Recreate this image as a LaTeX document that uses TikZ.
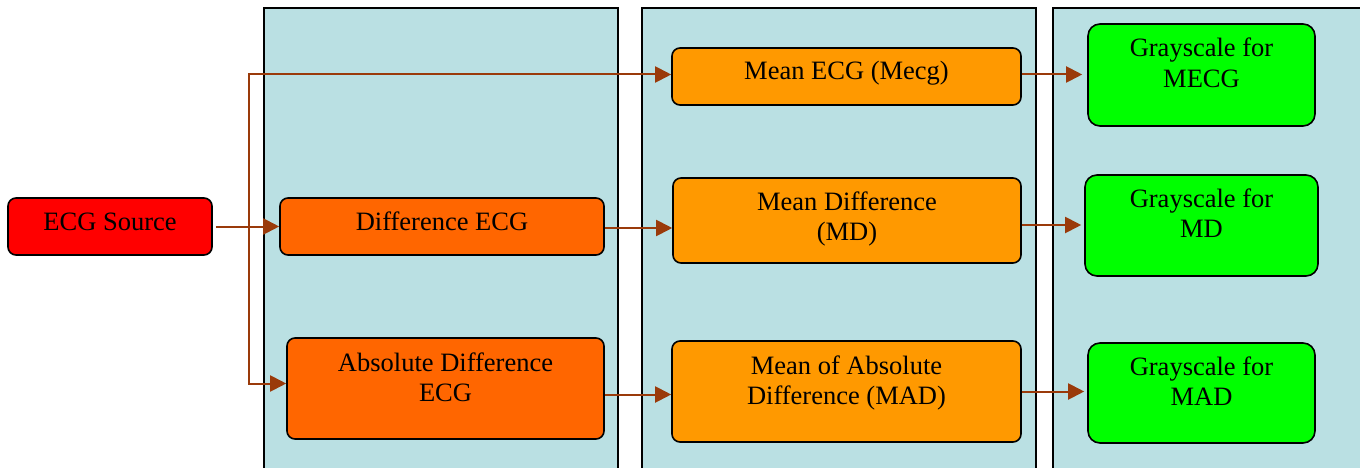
\documentclass[tikz,border=0pt]{standalone}
\usepackage{fontspec}
\setmainfont{Liberation Serif}
\usetikzlibrary{arrows.meta}
\definecolor{lanecol}{HTML}{BAE0E3}
\definecolor{arrcol}{HTML}{9A3A0A}
\definecolor{redc}{HTML}{FF0000}
\definecolor{orac}{HTML}{FF6600}
\definecolor{orbc}{HTML}{FF9900}
\definecolor{grnc}{HTML}{00FF00}
\tikzset{
  box/.style={draw=black, line width=1.6pt, rounded corners=8pt, rectangle, inner sep=0pt},
  gbox/.style={box, fill=grnc, rounded corners=12pt},
  txt/.style={anchor=base, inner sep=0pt, font=\fontsize{26.5}{30.5}\selectfont},
  arr/.style={draw=arrcol, line width=2pt, -{Triangle[length=16pt,width=16pt]}},
  lanebd/.style={draw=black, line width=2pt},
}
\newcommand{\twol}[2]{\begin{tabular}[t]{@{}c@{}}#1\\#2\end{tabular}}
\begin{document}
\begin{tikzpicture}[x=1pt,y=-1pt]
\useasboundingbox (0,0) rectangle (1360,468);
\begin{scope}
\clip (0,0) rectangle (1360,468);
\fill[lanecol] (264,8) rectangle (618,480);
\draw[lanebd] (264,480) -- (264,8) -- (618,8) -- (618,480);
\fill[lanecol] (642,8) rectangle (1036,480);
\draw[lanebd] (642,480) -- (642,8) -- (1036,8) -- (1036,480);
\fill[lanecol] (1053,8) rectangle (1370,480);
\draw[lanebd] (1053,480) -- (1053,8) -- (1370,8);
\end{scope}
% boxes
\node[box, fill=redc, minimum width=204pt, minimum height=57pt] (src) at (110,226.5) {};
\node[box, fill=orac, minimum width=324pt, minimum height=57pt] (diff) at (442,226.5) {};
\node[box, fill=orac, minimum width=317pt, minimum height=101pt] (absd) at (445.5,388.5) {};
\node[box, fill=orbc, minimum width=349pt, minimum height=57pt] (mecg) at (846.5,76.5) {};
\node[box, fill=orbc, minimum width=348pt, minimum height=85pt] (md) at (847,220.5) {};
\node[box, fill=orbc, minimum width=349pt, minimum height=101pt] (mad) at (846.5,391.5) {};
\node[gbox, minimum width=227pt, minimum height=102pt] (g1) at (1201.5,75) {};
\node[gbox, minimum width=233pt, minimum height=101pt] (g2) at (1201.5,225.5) {};
\node[gbox, minimum width=227pt, minimum height=100pt] (g3) at (1201.5,393) {};
% texts
\node[txt] (tsrc) at (110,230) {ECG Source};
\node[txt] (tdiff) at (442,230) {Difference ECG};
\node[txt] (tabsd) at (445.5,371) {\twol{Absolute Difference}{ECG}};
\node[txt] (tmecg) at (846.5,80) {Mean ECG (Mecg)};
\node[txt] (tmd) at (847,210) {\twol{Mean Difference}{(MD)}};
\node[txt] (tmad) at (846.5,374) {\twol{Mean of Absolute}{Difference (MAD)}};
\node[txt] (tg1) at (1201.5,57) {\twol{Grayscale for}{MECG}};
\node[txt] (tg2) at (1201.5,207) {\twol{Grayscale for}{MD}};
\node[txt] (tg3) at (1201.5,375) {\twol{Grayscale for}{MAD}};
% connectors
\coordinate (br) at (249,226.5);
\draw[arr, shorten <=3pt] (src.east) -- (diff.west);
\draw[arr] (br) |- ([yshift=2pt]mecg.west);
\draw[arr] (br) |- ([yshift=5pt]absd.west);
\draw[arr] ([yshift=-1.5pt]diff.east) -- ([yshift=-1.5pt]diff.east -| md.west);
\draw[arr] ([yshift=-6pt]absd.east) -- ([yshift=-6pt]absd.east -| mad.west);
\draw[arr, shorten >=5pt] ([yshift=2pt]mecg.east) -- ([yshift=2pt]mecg.east -| g1.west);
\draw[arr, shorten >=3pt] ([yshift=-4.5pt]md.east) -- ([yshift=-4.5pt]md.east -| g2.west);
\draw[arr, shorten >=3pt] (mad.east) -- (mad.east -| g3.west);
\end{tikzpicture}
\end{document}
